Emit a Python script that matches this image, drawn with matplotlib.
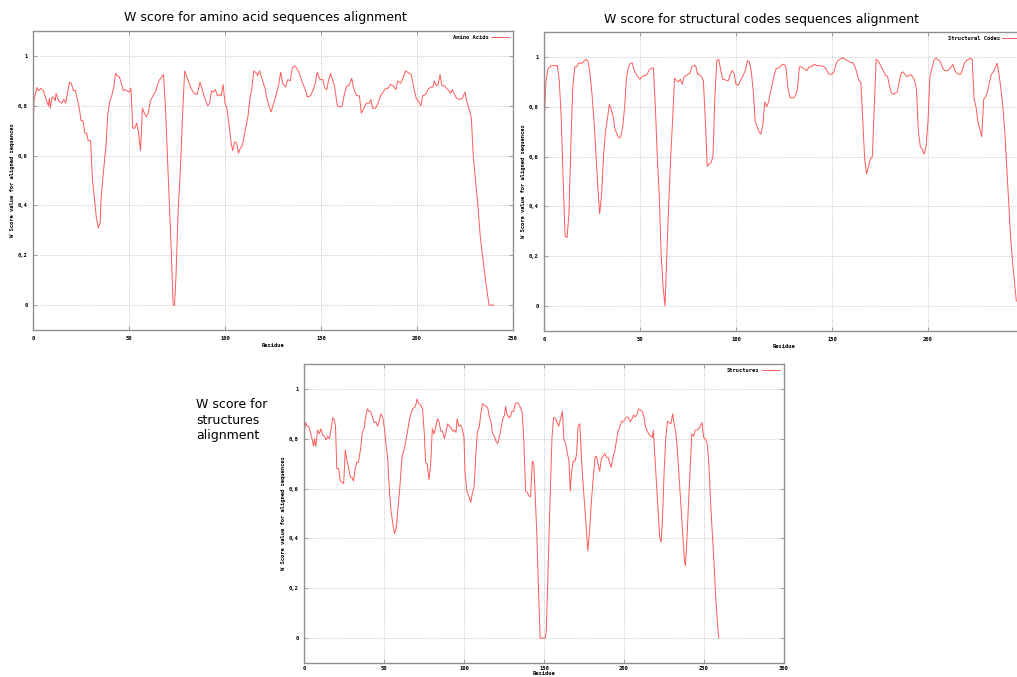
import matplotlib
matplotlib.use("Agg")
import matplotlib.pyplot as plt
import numpy as np

# ---------------- data ----------------
titles = ["W score for amino acid sequences alignment",
          "W score for structural codes sequences alignment",
          "W score for\nstructures\nalignment"]
series_names = ["Amino Acids", "Structural Codes", "Structures"]
x_label = "Residue"
y_label = "W Score value for aligned sequences"
y_ticks = [0, 0.2, 0.4, 0.6, 0.8, 1.0]
y_tick_labels = ["0", "0,2", "0,4", "0,6", "0,8", "1"]
x_ticks_a = [0, 50, 100, 150, 200, 250]
x_ticks_b = [0, 50, 100, 150, 200]
x_ticks_c = [0, 50, 100, 150, 200, 250, 300]

res_amino = [0, 0.5, 2, 3, 4, 5.5, 7, 8, 8.5, 9, 10, 11, 11.6, 12, 13.4, 15, 16, 17, 17.7, 19,
             20, 21, 22, 23, 24.3, 25, 26, 27, 28, 28.7, 30, 31, 31.6, 33, 34, 35, 35.4, 36.5, 38, 39,
             40, 41, 42, 43, 44, 45, 46.4, 47, 48, 49, 50, 51, 52, 53, 54, 55, 56, 57, 58, 59,
             60, 61.2, 62.5, 64, 65.5, 67, 68, 69, 70, 71, 72, 73, 73.7, 74.5, 75.6, 76.8, 78, 79, 80, 81.3,
             83, 84, 85.5, 87, 88, 89, 91, 92, 93, 94, 95, 96, 97, 98, 99, 100, 101, 102, 103, 104,
             105, 106, 107, 108, 109, 110, 112, 113, 114, 115, 116.5, 117, 118, 119, 121, 121.5, 122.5, 124, 125, 126.5,
             128, 129, 130, 131.6, 132.7, 134, 135, 136, 137, 138.5, 140, 141, 142, 143, 144.5, 146, 147, 148, 149.5, 151,
             152, 153, 154, 155, 156, 157, 158.5, 160, 161, 162, 163.3, 164.5, 166, 167, 168.5, 170, 171, 172.3, 173.5, 175,
             176, 177, 178.4, 179.7, 181, 182, 183.6, 185, 186, 187.6, 189, 190, 191.5, 192.7, 194, 195, 197, 198.4, 199.6, 201,
             202, 203, 204.5, 205.7, 207, 208.3, 209, 210, 211, 212, 213, 214.4, 215.4, 216.6, 217.5, 218.4, 219.6, 220.7, 222, 223.6,
             225, 226, 227.4, 228.3, 229.3, 230.5, 231.7, 233, 234.4, 235.7, 237.5, 240]
w_amino = [0.65, 0.82, 0.873, 0.86, 0.87, 0.86, 0.82, 0.80, 0.83, 0.79, 0.836, 0.83, 0.82, 0.85, 0.82, 0.81, 0.826, 0.81, 0.84, 0.895,
           0.89, 0.86, 0.862, 0.83, 0.78, 0.74, 0.74, 0.69, 0.69, 0.66, 0.66, 0.50, 0.46, 0.35, 0.31, 0.33, 0.42, 0.52, 0.64, 0.77,
           0.82, 0.84, 0.87, 0.93, 0.92, 0.915, 0.88, 0.86, 0.865, 0.86, 0.855, 0.87, 0.71, 0.71, 0.73, 0.69, 0.62, 0.79, 0.77, 0.755,
           0.77, 0.82, 0.84, 0.86, 0.90, 0.915, 0.925, 0.79, 0.60, 0.42, 0.22, 0.0, 0.0, 0.12, 0.38, 0.55, 0.78, 0.94, 0.92, 0.89,
           0.86, 0.85, 0.845, 0.895, 0.87, 0.84, 0.80, 0.81, 0.86, 0.855, 0.865, 0.84, 0.845, 0.84, 0.885, 0.81, 0.79, 0.73, 0.66, 0.62,
           0.655, 0.65, 0.61, 0.63, 0.64, 0.68, 0.76, 0.83, 0.87, 0.94, 0.93, 0.92, 0.94, 0.915, 0.865, 0.84, 0.81, 0.775, 0.80, 0.84,
           0.885, 0.935, 0.89, 0.875, 0.905, 0.90, 0.95, 0.96, 0.955, 0.935, 0.90, 0.88, 0.86, 0.835, 0.84, 0.865, 0.89, 0.935, 0.905, 0.905,
           0.87, 0.865, 0.905, 0.93, 0.905, 0.88, 0.80, 0.795, 0.80, 0.84, 0.88, 0.88, 0.91, 0.87, 0.84, 0.84, 0.77, 0.79, 0.81, 0.81,
           0.825, 0.79, 0.79, 0.81, 0.84, 0.85, 0.87, 0.87, 0.885, 0.88, 0.865, 0.90, 0.89, 0.91, 0.94, 0.935, 0.925, 0.87, 0.83, 0.815,
           0.80, 0.84, 0.845, 0.865, 0.875, 0.875, 0.90, 0.88, 0.885, 0.925, 0.88, 0.88, 0.87, 0.86, 0.85, 0.865, 0.845, 0.83, 0.825, 0.83,
           0.855, 0.815, 0.78, 0.75, 0.60, 0.50, 0.40, 0.27, 0.18, 0.10, 0.0, 0.0]

w_codes = [0.72, 0.90, 0.95, 0.96, 0.965, 0.965, 0.965, 0.965, 0.90, 0.75, 0.50, 0.28, 0.275, 0.37, 0.65, 0.88, 0.96, 0.96, 0.975, 0.975,
           0.975, 0.985, 0.99, 0.98, 0.93, 0.85, 0.75, 0.62, 0.48, 0.37, 0.45, 0.60, 0.70, 0.75, 0.81, 0.79, 0.76, 0.71, 0.69, 0.675,
           0.68, 0.72, 0.80, 0.92, 0.96, 0.975, 0.975, 0.945, 0.93, 0.92, 0.91, 0.92, 0.925, 0.925, 0.935, 0.95, 0.955, 0.955, 0.80, 0.60,
           0.45, 0.21, 0.08, 0.0, 0.21, 0.42, 0.60, 0.75, 0.915, 0.905, 0.90, 0.91, 0.89, 0.92, 0.925, 0.93, 0.935, 0.96, 0.965, 0.965,
           0.93, 0.93, 0.92, 0.905, 0.75, 0.56, 0.57, 0.575, 0.60, 0.84, 0.985, 0.99, 0.95, 0.91, 0.91, 0.905, 0.905, 0.93, 0.945, 0.935,
           0.89, 0.885, 0.90, 0.915, 0.93, 0.95, 0.985, 0.98, 0.94, 0.86, 0.74, 0.72, 0.70, 0.69, 0.73, 0.82, 0.80, 0.82, 0.86, 0.895,
           0.93, 0.955, 0.955, 0.96, 0.97, 0.97, 0.96, 0.88, 0.84, 0.835, 0.835, 0.845, 0.87, 0.96, 0.96, 0.955, 0.95, 0.945, 0.96, 0.96,
           0.965, 0.97, 0.965, 0.965, 0.965, 0.962, 0.96, 0.95, 0.935, 0.93, 0.93, 0.94, 0.97, 0.985, 0.99, 0.995, 0.995, 0.99, 0.985, 0.98,
           0.978, 0.975, 0.96, 0.935, 0.905, 0.90, 0.75, 0.59, 0.53, 0.56, 0.59, 0.60, 0.80, 0.99, 0.985, 0.97, 0.955, 0.94, 0.925, 0.92,
           0.88, 0.855, 0.85, 0.855, 0.86, 0.90, 0.935, 0.94, 0.93, 0.92, 0.925, 0.93, 0.92, 0.905, 0.87, 0.70, 0.64, 0.63, 0.61, 0.64,
           0.74, 0.92, 0.95, 0.985, 0.995, 0.99, 0.985, 0.97, 0.95, 0.945, 0.945, 0.95, 0.96, 0.97, 0.945, 0.935, 0.93, 0.93, 0.95, 0.975,
           0.985, 0.99, 0.995, 0.99, 0.83, 0.80, 0.74, 0.71, 0.68, 0.83, 0.84, 0.86, 0.90, 0.93, 0.94, 0.955, 0.975, 0.93, 0.87, 0.80,
           0.70, 0.56, 0.42, 0.28, 0.18, 0.10, 0.02]
res_codes = list(range(len(w_codes)))

res_struct = [0, 1, 2, 3, 4, 5, 6, 6.5, 7.4, 8.5, 9.5, 10.6, 11.6, 12.7, 13.8, 14.8, 15.9, 17, 18, 19,
              19.7, 20.5, 21.6, 22.7, 23.7, 24.8, 25.8, 26.9, 28, 29, 30, 31, 32, 33, 34, 35.4, 36.4, 37.5, 38.5, 39.6,
              40.7, 41.7, 42.8, 43.8, 44.9, 46, 47, 48, 49.1, 50.2, 51.2, 52.3, 53.4, 54.4, 55.5, 56.5, 57.6, 58.6, 59.7, 61.2,
              62.9, 64.6, 66, 67, 68, 69.7, 70.7, 71.8, 73, 74.1, 75.2, 76, 77, 78.1, 79.2, 80.2, 81.3, 82.4, 83.4, 84.5,
              85.5, 86.6, 87.7, 88.7, 89.8, 90.8, 91.9, 93, 94, 95, 95.7, 96.8, 97.8, 98.9, 100, 100.6, 101.8, 103, 104.2, 105.2,
              106.3, 107.3, 108.4, 109.5, 110.5, 111.6, 112.6, 113.7, 114.8, 115.8, 116.9, 117.9, 119, 120, 121.1, 122.2, 123.2, 124.3, 125.3, 126,
              126.8, 128, 129, 130, 131, 132, 133.2, 134.2, 135.3, 136.4, 137.4, 138.5, 139.5, 140.6, 141.6, 142.7, 143.6, 144.4, 145.5, 146.5,
              147.6, 149.7, 150.7, 151.4, 152.2, 153, 153.9, 155, 156, 157.1, 158.2, 159.2, 160.3, 161.5, 162.4, 163.5, 164.5, 165.6, 166.4, 167.3,
              168.3, 169.4, 170.4, 171.3, 172.4, 173.2, 174.3, 175.3, 176.4, 177.4, 178.5, 179.5, 180.6, 181.9, 182.7, 183.8, 184.8, 185.9, 187, 188,
              189.1, 190.1, 191.2, 192, 193.1, 194.2, 195.2, 196.3, 197.5, 198.6, 199.7, 200.7, 201.8, 202.8, 203.9, 205, 206, 207, 208.1, 209.2,
              210.2, 211.3, 212.4, 213.4, 214.5, 215.5, 216.6, 217.7, 218.3, 219.1, 220.2, 221.3, 222.3, 223.2, 224, 225.1, 226.1, 227.2, 228.2, 229.3,
              230.4, 231.4, 232.5, 233.5, 234.6, 235.7, 236.7, 237.8, 238.4, 239.3, 240.3, 241.4, 242.4, 243.5, 244.5, 245.6, 246.7, 247.7, 248.8, 249.8,
              250.9, 252, 253, 254.1, 255.1, 256.2, 257.3, 258.3, 259.2]
w_struct = [0.82, 0.865, 0.85, 0.85, 0.825, 0.80, 0.77, 0.80, 0.77, 0.835, 0.82, 0.84, 0.815, 0.81, 0.795, 0.81, 0.80, 0.84, 0.885, 0.875,
            0.85, 0.68, 0.68, 0.63, 0.625, 0.62, 0.755, 0.71, 0.68, 0.645, 0.645, 0.63, 0.68, 0.705, 0.705, 0.76, 0.825, 0.84, 0.885, 0.92,
            0.91, 0.91, 0.885, 0.865, 0.868, 0.85, 0.87, 0.90, 0.89, 0.845, 0.78, 0.72, 0.59, 0.51, 0.46, 0.42, 0.44, 0.51, 0.59, 0.725,
            0.765, 0.825, 0.88, 0.905, 0.92, 0.93, 0.96, 0.94, 0.935, 0.92, 0.82, 0.705, 0.70, 0.635, 0.70, 0.84, 0.82, 0.85, 0.88, 0.865,
            0.83, 0.83, 0.80, 0.825, 0.86, 0.85, 0.845, 0.83, 0.835, 0.825, 0.88, 0.85, 0.855, 0.84, 0.805, 0.67, 0.59, 0.57, 0.545, 0.58,
            0.605, 0.725, 0.83, 0.845, 0.90, 0.94, 0.935, 0.93, 0.925, 0.89, 0.865, 0.82, 0.81, 0.79, 0.78, 0.81, 0.845, 0.88, 0.895, 0.93,
            0.90, 0.885, 0.888, 0.91, 0.91, 0.94, 0.945, 0.94, 0.925, 0.905, 0.79, 0.59, 0.585, 0.57, 0.568, 0.71, 0.70, 0.59, 0.42, 0.205,
            0.0, 0.0, 0.0, 0.03, 0.19, 0.38, 0.58, 0.805, 0.885, 0.883, 0.865, 0.85, 0.878, 0.91, 0.80, 0.78, 0.745, 0.71, 0.59, 0.67,
            0.71, 0.71, 0.74, 0.85, 0.86, 0.75, 0.63, 0.54, 0.445, 0.35, 0.43, 0.54, 0.63, 0.725, 0.73, 0.70, 0.67, 0.72, 0.73, 0.74,
            0.725, 0.725, 0.70, 0.685, 0.725, 0.75, 0.79, 0.83, 0.85, 0.87, 0.87, 0.88, 0.888, 0.885, 0.868, 0.88, 0.895, 0.888, 0.898, 0.92,
            0.915, 0.91, 0.89, 0.85, 0.83, 0.82, 0.81, 0.805, 0.835, 0.75, 0.63, 0.51, 0.405, 0.385, 0.47, 0.67, 0.805, 0.87, 0.865, 0.86,
            0.90, 0.858, 0.82, 0.74, 0.63, 0.525, 0.42, 0.31, 0.29, 0.39, 0.54, 0.685, 0.82, 0.81, 0.835, 0.835, 0.84, 0.85, 0.865, 0.805,
            0.80, 0.78, 0.70, 0.55, 0.43, 0.31, 0.165, 0.07, 0.0]

# ---------------- style ----------------
W, H = 1017, 677
LINE_COLOR = "#ff5a5a"
GRID_COLOR = "#b8b8b8"
SPINE_COLOR = "#8f8f8f"
small_font = dict(family="DejaVu Sans Mono", size=4, weight="bold")

fig = plt.figure(figsize=(W / 100, H / 100), dpi=100)


def px_axes(left, top, width, height):
    return fig.add_axes([left / W, 1 - (top + height) / H, width / W, height / H])


def style(ax, xmax, xticks, name, x, y, xlabelpad=2, xpad=4):
    ax.plot(x, y, color=LINE_COLOR, lw=0.7, label=name)
    ax.set_xlim(0, xmax)
    ax.set_ylim(-0.1, 1.1)
    ax.set_xticks(xticks)
    ax.set_xticklabels([str(t) for t in xticks], fontdict=small_font)
    ax.set_yticks(y_ticks)
    ax.set_yticklabels(y_tick_labels, fontdict=small_font)
    ax.tick_params(direction="in", length=3, width=0.6, color=SPINE_COLOR,
                   top=True, right=True, pad=4)
    ax.tick_params(axis="x", pad=xpad)
    ax.grid(True, color=GRID_COLOR, linestyle=(0, (1, 1.5)), linewidth=0.6)
    for s in ax.spines.values():
        s.set_color(SPINE_COLOR)
        s.set_linewidth(1.0)
    ax.set_xlabel(x_label, fontdict=small_font, labelpad=xlabelpad)
    ax.set_ylabel(y_label, fontdict=small_font, labelpad=2)
    ax.legend(loc="upper right", frameon=False, markerfirst=False,
              prop=dict(family="DejaVu Sans Mono", size=4, weight="bold"),
              handlelength=3.2, handletextpad=0.5, borderaxespad=0.3)


ax1 = px_axes(33, 31, 480, 299)
style(ax1, 250, x_ticks_a, series_names[0], res_amino, w_amino)

ax2 = px_axes(544, 32, 480, 299)
style(ax2, 250, x_ticks_b, series_names[1], res_codes, w_codes)

ax3 = px_axes(304, 364, 480, 299)
style(ax3, 300, x_ticks_c, series_names[2], res_struct, w_struct,
      xlabelpad=0.0, xpad=2)

fig.text(265 / W, 1 - 18 / H, titles[0], ha="center", va="center", fontsize=9)
fig.text(761 / W, 1 - 20 / H, titles[1], ha="center", va="center", fontsize=9)
fig.text(196 / W, 1 - 420 / H, titles[2], ha="left", va="center", fontsize=9,
         linespacing=1.25)

fig.savefig("out.png", dpi=100)
